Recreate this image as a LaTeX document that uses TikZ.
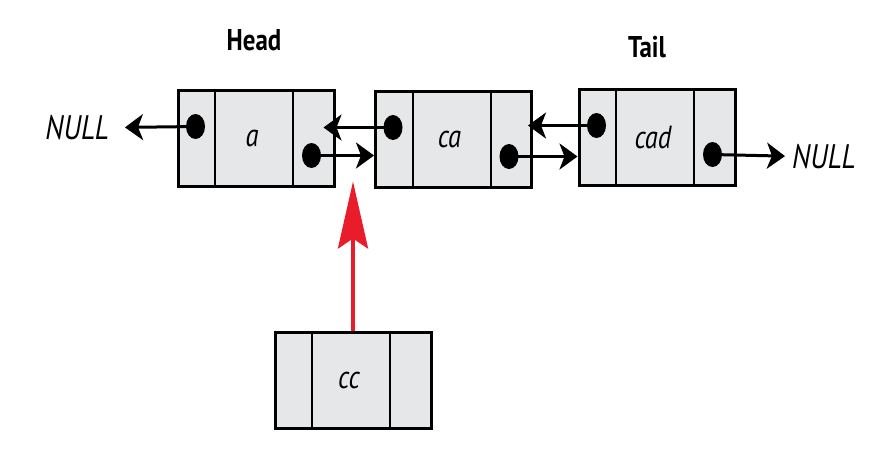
\documentclass[tikz,border=0pt]{standalone}
\usepackage{fontspec}
\usepackage{tikz}
\usetikzlibrary{arrows.meta,shapes.geometric}
\setmainfont[FakeStretch=0.83]{PT Sans}
\definecolor{black}{RGB}{0,0,0}
\definecolor{box_gray}{RGB}{230,231,232}
\definecolor{link_red}{RGB}{232,28,42}

\tikzset{
	cell/.style={draw=black,line width=3pt,fill=box_gray,minimum width=156pt,minimum height=96pt,inner sep=0},
	dot/.style={ellipse,fill=black,inner sep=0,minimum width=19pt,minimum height=25pt},
	lbl/.style={inner sep=0,font=\fontsize{34}{34}\selectfont\itshape},
	val/.style={inner sep=0,font=\fontsize{32}{32}\selectfont\itshape},
	title/.style={inner sep=0,font=\fontsize{30}{30}\selectfont\bfseries},
	link/.style={black,line width=3pt,-{Stealth[length=18pt,width=26pt,inset=5pt]}}
}

\begin{document}
\begin{tikzpicture}[x=1pt,y=-1pt]
	\useasboundingbox (0,0) rectangle (891,459);
	\node[cell] (a) at (256,138) {};
	\node[cell] (ca) at (453.5,139) {};
	\node[cell] (cad) at (657,137) {};
	\node[cell] (cc) at (353,380) {};
	
	\foreach \n in {a,ca,cad,cc} {
		\draw[black,line width=2pt] ([xshift=38.5pt]\n.north west) -- ([xshift=38.5pt]\n.south west);
		\draw[black,line width=2pt] ([xshift=-42.5pt]\n.north east) -- ([xshift=-42.5pt]\n.south east);
		\node[val] (\n-val) at ([xshift=-4pt]\n.center) {\n};
	}
	
	\foreach \n in {a,ca,cad} {
		\node[dot] (\n-prev) at ([shift={(19pt,-38pt)}]\n.north west) {};
		\node[dot] (\n-next) at ([shift={(135pt,-67pt)}]\n.north west) {};
	}
	
	\node[title] (head) at (254,40) {Head};
	\node[title] (tail) at (647,47) {Tail};
	\node[lbl,anchor=east] (null-l) at (109,128) {NULL};
	\node[lbl,anchor=west] (null-r) at (792,157) {NULL};
	
	\coordinate (a-in) at ([xshift=-12pt]a.east |- ca-prev);
	\coordinate (ca-in) at ([xshift=-5pt]ca.east |- cad-prev);
	
	\draw[link,shorten >=16pt] (a-prev.center) -- (null-l);
	\draw[link,shorten >=7pt] (cad-next.center) -- (null-r);
	\draw[link] (a-next.center) -- (ca.west |- a-next);
	\draw[link] (ca-prev.center) -- (a-in);
	\draw[link] (ca-next.center) -- (cad.west |- ca-next);
	\draw[link] (cad-prev.center) -- (ca-in);
	
	\draw[link_red,line width=4pt,-{Stealth[length=67pt,width=30pt,inset=10pt]}] (cc.north) -- ++(0,-149);
\end{tikzpicture}
\end{document}
